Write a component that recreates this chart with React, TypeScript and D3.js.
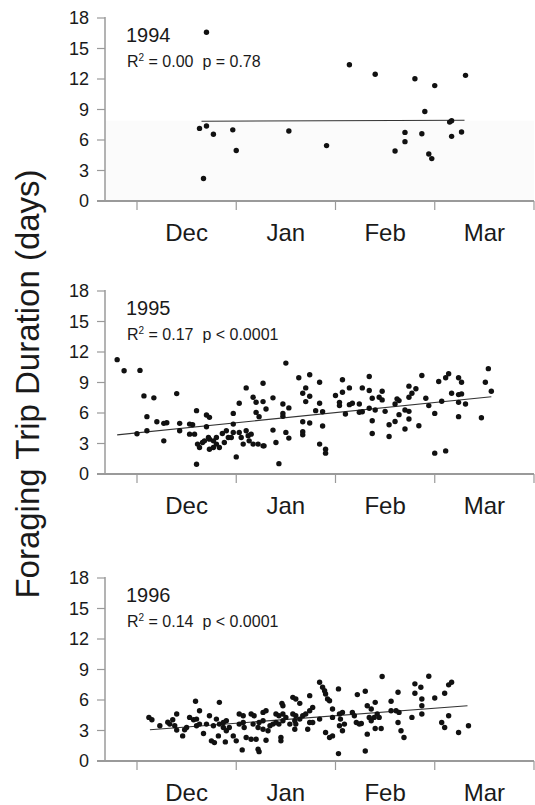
import * as d3 from 'd3';
import React from 'react';

// x values are months counted from 1 Dec (0 = 1 Dec, 1 = 1 Jan, ...)
const months = ['Dec', 'Jan', 'Feb', 'Mar'];
const yTicks = [0, 3, 6, 9, 12, 15, 18];
const years = ['1994', '1995', '1996'];
const stats = [
  { r2: '0.00', p: 'p = 0.78' },
  { r2: '0.17', p: 'p < 0.0001' },
  { r2: '0.14', p: 'p < 0.0001' },
];

const trips1994 = [
  [0.70, 16.6], [0.63, 7.14], [0.70, 7.37], [0.77, 6.56], [0.965, 7.0], [1.0, 4.96], [0.67, 2.22],
  [1.53, 6.88], [1.91, 5.45], [2.14, 13.4], [2.40, 12.46], [2.80, 12.03], [3.00, 11.35], [3.31, 12.36],
  [2.90, 8.8], [3.15, 7.76], [3.17, 7.9], [2.70, 6.75], [2.70, 5.84], [2.87, 6.62], [2.60, 4.92],
  [2.94, 4.63], [2.97, 4.17], [3.17, 6.36], [3.27, 6.78],
];

const trips1995 = [
  [-0.20, 11.25], [-0.13, 10.16], [0.03, 10.19], [0.07, 7.68], [0.17, 7.49], [0.10, 5.64], [0.0, 3.96],
  [0.10, 4.25], [0.20, 5.14], [0.27, 3.26], [0.30, 5.04], [0.27, 4.98], [0.40, 7.91], [0.43, 4.98],
  [0.43, 4.25], [0.53, 4.91], [0.56, 4.85], [0.53, 3.92], [0.60, 6.23], [0.58, 3.92], [0.60, 0.96],
  [0.70, 5.8], [0.73, 5.57], [0.70, 4.65], [0.61, 2.94], [0.63, 2.60], [0.66, 3.10], [0.68, 3.26],
  [0.72, 3.59], [0.73, 3.43], [0.73, 2.44], [0.77, 2.60], [0.80, 2.94], [0.97, 4.09], [0.97, 4.91],
  [0.97, 5.96], [1.0, 1.68], [1.03, 6.96], [1.10, 8.47], [1.17, 7.55], [1.20, 7.06], [1.20, 6.06],
  [1.23, 5.64], [1.27, 8.93], [1.27, 7.12], [1.30, 6.40], [1.37, 7.49], [1.37, 4.32], [1.40, 3.10],
  [1.43, 1.02], [1.47, 6.89], [1.47, 5.96], [1.47, 5.67], [1.50, 10.91], [1.50, 4.09], [1.53, 6.50],
  [1.53, 3.53], [1.63, 9.47], [0.86, 3.99], [0.90, 4.25], [0.92, 3.59], [0.88, 3.10], [0.95, 3.59],
  [1.03, 4.09], [1.05, 3.59], [1.07, 2.94], [1.10, 4.25], [1.12, 3.76], [1.13, 3.26], [1.15, 3.92],
  [1.17, 2.94], [1.22, 2.94], [1.27, 2.77], [1.28, 2.77], [0.83, 2.60], [0.80, 3.59], [0.77, 3.26],
  [1.74, 9.76], [1.84, 9.03], [1.70, 8.47], [1.67, 7.94], [1.74, 7.65], [1.70, 7.12], [1.84, 6.96],
  [1.80, 6.23], [1.87, 6.13], [1.67, 5.14], [1.74, 5.01], [1.67, 4.15], [1.67, 3.86], [1.87, 4.72],
  [1.84, 2.94], [1.90, 2.44], [1.90, 2.05], [2.07, 9.27], [2.0, 7.72], [2.07, 8.04], [2.14, 8.47],
  [2.04, 7.05], [2.04, 6.73], [2.14, 6.82], [2.17, 6.96], [2.24, 6.89], [2.10, 5.90], [2.24, 6.07],
  [2.27, 6.13], [2.34, 9.59], [2.27, 8.47], [2.34, 8.21], [2.37, 7.45], [2.44, 7.55], [2.47, 7.29],
  [2.47, 8.14], [2.34, 6.46], [2.40, 6.30], [2.50, 6.16], [2.37, 5.24], [2.37, 3.99], [2.54, 4.85],
  [2.54, 3.69], [2.60, 5.17], [2.64, 5.84], [2.60, 6.89], [2.64, 7.22], [2.62, 7.39], [2.70, 4.42],
  [2.74, 5.41], [2.70, 6.30], [2.74, 6.16], [2.74, 8.64], [2.74, 7.55], [2.77, 7.94], [2.81, 8.38],
  [2.84, 4.75], [2.87, 9.69], [2.91, 7.45], [2.94, 6.73], [3.00, 5.96], [3.00, 2.05], [3.11, 2.27],
  [3.04, 9.10], [3.07, 7.15], [3.11, 9.47], [3.14, 9.86], [3.17, 7.94], [3.24, 9.47], [3.27, 9.03],
  [3.24, 7.81], [3.27, 7.88], [3.24, 7.05], [3.31, 6.89], [3.24, 5.64], [3.47, 5.54], [3.51, 9.03],
  [3.54, 10.36], [3.57, 8.14],
];

const trips1996 = [
  [0.12, 4.29], [0.15, 4.06], [0.23, 3.46], [0.31, 3.82], [0.33, 3.63], [0.36, 4.06], [0.40, 4.62],
  [0.38, 3.46], [0.40, 3.04], [0.46, 2.47], [0.50, 3.30], [0.48, 3.07], [0.53, 4.29], [0.57, 4.06],
  [0.60, 4.12], [0.59, 5.87], [0.63, 4.95], [0.60, 3.46], [0.63, 3.63], [0.67, 2.70], [0.73, 4.45],
  [0.80, 4.12], [0.70, 3.63], [0.77, 3.46], [0.83, 5.77], [0.83, 3.63], [0.75, 1.98], [0.78, 1.81],
  [0.82, 2.47], [0.89, 1.88], [0.87, 3.30], [0.90, 2.97], [0.93, 3.30], [0.87, 3.79], [0.90, 3.96],
  [0.97, 2.47], [1.0, 1.98], [1.03, 4.62], [1.07, 4.45], [1.03, 3.63], [1.07, 3.79], [1.08, 3.30],
  [1.06, 1.09], [1.10, 2.31], [1.15, 4.62], [1.18, 4.45], [1.15, 2.14], [1.20, 2.14], [1.22, 1.16],
  [1.23, 0.92], [1.17, 3.63], [1.22, 3.30], [1.23, 3.79], [1.27, 3.96], [1.27, 3.13], [1.27, 4.78],
  [1.30, 4.95], [1.30, 2.04], [1.34, 3.46], [1.37, 3.63], [1.32, 2.97], [1.40, 4.62], [1.46, 5.67],
  [1.47, 5.44], [1.43, 4.45], [1.47, 4.62], [1.50, 4.29], [1.45, 2.31], [1.45, 1.98], [1.40, 3.79],
  [1.43, 3.63], [1.47, 3.96], [1.54, 3.63],
  [1.57, 6.26], [1.60, 6.10], [1.64, 5.67], [1.57, 4.62], [1.60, 4.45], [1.59, 3.96], [1.60, 3.63],
  [1.59, 3.13], [1.64, 4.12], [1.67, 4.45], [1.70, 4.62], [1.74, 6.43], [1.74, 4.95], [1.77, 5.27],
  [1.74, 3.79], [1.77, 3.79], [1.72, 3.13], [1.84, 4.12], [1.84, 7.74], [1.87, 7.25], [1.89, 6.92],
  [1.90, 6.59], [1.92, 6.10], [1.94, 5.93], [2.03, 7.09], [1.97, 5.11], [1.97, 4.29], [1.90, 2.80],
  [1.94, 2.31], [1.97, 2.47], [2.04, 4.62], [2.07, 4.78], [2.05, 4.12], [2.04, 3.46], [2.07, 2.97],
  [2.09, 3.63], [2.03, 0.73], [2.17, 4.78], [2.19, 4.45], [2.21, 3.79], [2.24, 3.63], [2.26, 3.69],
  [2.22, 6.53], [2.30, 6.86], [2.32, 5.44], [2.36, 5.11], [2.34, 4.29], [2.39, 4.29], [2.36, 3.96],
  [2.40, 5.77], [2.32, 2.64], [2.40, 3.19], [2.46, 3.19], [2.30, 0.99], [2.42, 4.62], [2.44, 4.29],
  [2.56, 5.87], [2.56, 4.95], [2.61, 4.95], [2.64, 4.78], [2.63, 6.76], [2.63, 3.79], [2.66, 2.97],
  [2.69, 2.31], [2.77, 4.29], [2.80, 7.59], [2.86, 7.25], [2.80, 6.66], [2.87, 6.10], [2.87, 5.44],
  [2.87, 4.62], [2.94, 8.34], [3.00, 6.20], [3.07, 3.79], [3.10, 3.30], [3.10, 6.66], [3.14, 4.45],
  [3.14, 7.49], [3.17, 7.74], [3.24, 2.80], [3.34, 3.46], [2.47, 8.31],
];

// fitted regression lines: [[x0, y0], [x1, y1]]
const fits = [
  [[0.65, 7.85], [3.30, 7.95]],
  [[-0.20, 3.85], [3.57, 7.6]],
  [[0.13, 3.07], [3.33, 5.44]],
];

const allTrips = [trips1994, trips1995, trips1996];

const W = 535;
const H = 805;
const panelTops = [18, 291, 578];
const panelH = 183;
const font = "'Liberation Sans', Arial, Helvetica, sans-serif";
const axisColor = '#9a9a9a';

function Panel({ idx }: { idx: number }) {
  const top = panelTops[idx];
  const x = d3.scaleLinear().domain([0, 4]).range([137, 534]);
  const y = d3.scaleLinear().domain([0, 18]).range([top + panelH, top]);
  const axisX = 105;
  const line = d3.line<number[]>().x(d => x(d[0])).y(d => y(d[1]));

  return (
    <g>
      {idx === 0 && (
        <rect x={axisX} y={y(7.9)} width={x(4) - axisX} height={y(0) - y(7.9)} fill="#fbfbfb" />
      )}
      {/* y axis */}
      <line x1={axisX} x2={axisX} y1={y(18) - 1} y2={y(0)} stroke={axisColor} strokeWidth={1.5} />
      {yTicks.map(t => (
        <g key={t}>
          <line x1={axisX - 8} x2={axisX} y1={y(t)} y2={y(t)} stroke={axisColor} strokeWidth={1.2} />
          <text x={89} y={y(t)} dy="0.35em" textAnchor="end" fontSize={18} fill="#1a1a1a">{t}</text>
        </g>
      ))}
      {/* x axis */}
      <line x1={97} x2={x(4)} y1={y(0)} y2={y(0)} stroke={axisColor} strokeWidth={1.8} />
      {d3.range(0, 5).map(i => (
        <line key={i} x1={x(i)} x2={x(i)} y1={y(0)} y2={y(0) + 9} stroke={axisColor} strokeWidth={1.2} />
      ))}
      {months.map((m, i) => (
        <text key={m} x={x(i + 0.5)} y={y(0) + 40} textAnchor="middle" fontSize={24} fill="#1a1a1a">{m}</text>
      ))}
      {/* labels */}
      <text x={126} y={y(18) + 24} fontSize={20} fill="#1a1a1a">{years[idx]}</text>
      <text x={127} y={y(18) + 49} fontSize={16} fill="#1a1a1a" style={{ whiteSpace: 'pre' }}>
        R<tspan dy={-6} fontSize={10}>2</tspan>
        <tspan dy={6}>{` = ${stats[idx].r2}  ${stats[idx].p}`}</tspan>
      </text>
      {/* fit */}
      <path d={line(fits[idx]) || ''} fill="none" stroke="#333" strokeWidth={1.1} />
      {/* points */}
      {allTrips[idx].map((d, i) => (
        <circle key={i} cx={x(d[0])} cy={y(d[1])} r={2.7} fill="#111" />
      ))}
    </g>
  );
}

export default function App() {
  return (
    <svg width={W} height={H} style={{ position: 'absolute', left: 0, top: 0, background: '#fff' }} fontFamily={font}>
      <rect width={W} height={H} fill="#fff" />
      <text
        transform={`translate(39, 384) rotate(-90)`}
        textAnchor="middle"
        fontSize={33}
        fill="#1a1a1a"
      >
        Foraging Trip Duration (days)
      </text>
      {[0, 1, 2].map(i => <Panel key={i} idx={i} />)}
    </svg>
  );
}
